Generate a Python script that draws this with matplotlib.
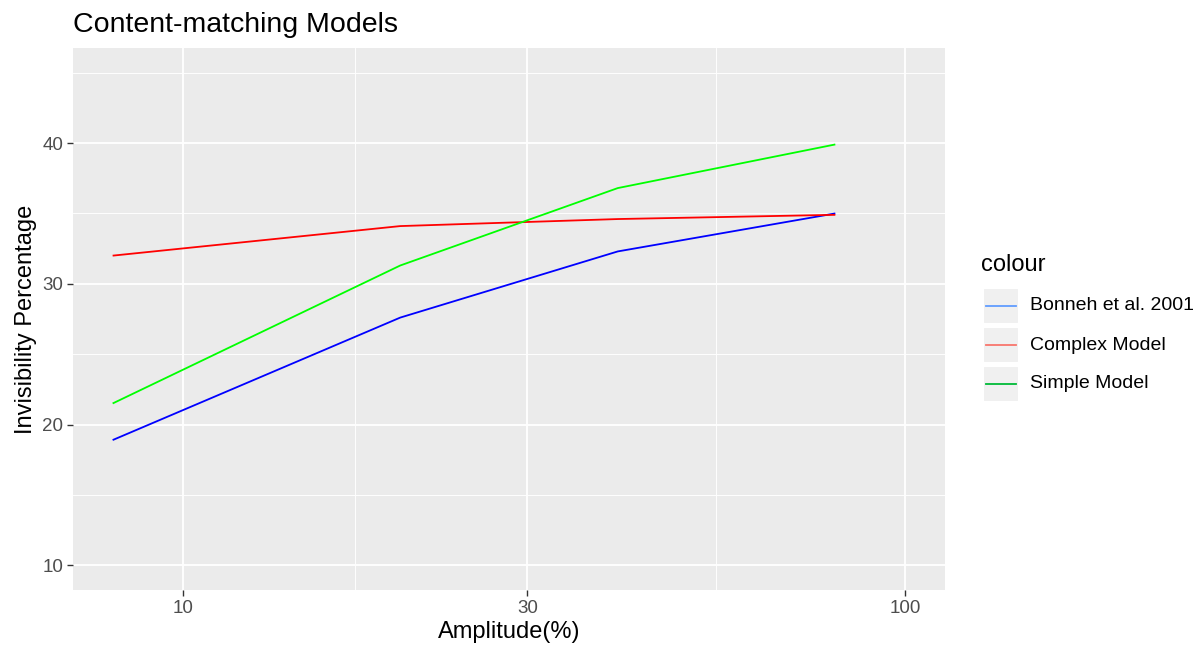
import numpy as np
import matplotlib.pyplot as plt
from matplotlib.lines import Line2D
from matplotlib.patches import Rectangle
from matplotlib.ticker import FixedLocator, NullFormatter

plt.rcParams['font.family'] = ['Liberation Sans', 'DejaVu Sans']

# amplitude (%) and invisibility percentage per model
amplitude = [8, 20, 40, 80]
bonneh = [18.9, 27.6, 32.3, 35.0]
complex_model = [32.0, 34.1, 34.6, 34.9]
simple_model = [21.5, 31.3, 36.8, 39.9]

series_names = ['Bonneh et al. 2001', 'Complex Model', 'Simple Model']
line_colors = ['#0000FF', '#FF0000', '#00FF00']
key_colors = ['#619CFF', '#F8766D', '#00BA38']

x_breaks = [10, 30, 100]
y_breaks = [10, 20, 30, 40]

W, H = 1204, 651
fig = plt.figure(figsize=(W / 100, H / 100), dpi=100)
fig.patch.set_facecolor('white')

left, right, top, bottom = 73, 945, 48, 590
ax = fig.add_axes([left / W, 1 - bottom / H, (right - left) / W, (bottom - top) / H])
ax.set_facecolor('#EBEBEB')

for y, c in zip([bonneh, complex_model, simple_model], line_colors):
    ax.plot(amplitude, y, color=c, lw=1.3, solid_capstyle='butt', zorder=3)

ax.set_xscale('log')
# ggplot-like 5% expansion around the limits (8..100, 10..45)
lx0, lx1 = np.log10(8), np.log10(100)
dx = (lx1 - lx0) * 0.05
ax.set_xlim(10 ** (lx0 - dx), 10 ** (lx1 + dx))
ax.set_ylim(10 - 35 * 0.05, 45 + 35 * 0.05)

ax.xaxis.set_major_locator(FixedLocator(x_breaks))
ax.set_xticklabels([str(v) for v in x_breaks])
lb = np.log10(x_breaks)
ax.xaxis.set_minor_locator(FixedLocator(10 ** ((lb[:-1] + lb[1:]) / 2)))
ax.xaxis.set_minor_formatter(NullFormatter())
ax.yaxis.set_major_locator(FixedLocator(y_breaks))
ax.yaxis.set_minor_locator(FixedLocator([15, 25, 35, 45]))

ax.grid(which='major', color='white', lw=1.3)
ax.grid(which='minor', color='white', lw=0.65)
ax.set_axisbelow(True)
for s in ax.spines.values():
    s.set_visible(False)

ax.tick_params(which='major', length=4, width=1, color='#333333',
               labelcolor='#4D4D4D', labelsize=13.5, pad=3)
ax.tick_params(which='minor', length=0)

ax.set_xlabel('Amplitude(%)', fontsize=17, labelpad=3)
ax.set_ylabel('Invisibility Percentage', fontsize=17, labelpad=4)

fig.text(left / W, 1 - 25 / H, 'Content-matching Models', fontsize=20.5,
         ha='left', va='center')

# legend
fig.text(981 / W, 1 - 265 / H, 'colour', fontsize=17, ha='left', va='center')
key_centers = [306, 345, 384]
for name, kc, cy in zip(series_names, key_colors, key_centers):
    fig.patches.append(Rectangle((983 / W, 1 - (cy + 18) / H), 36 / W, 36 / H,
                                 transform=fig.transFigure, facecolor='#F0F0F0',
                                 edgecolor='white', lw=1.5))
    fig.lines.append(Line2D([986 / W, 1016 / W], [1 - cy / H, 1 - cy / H],
                            transform=fig.transFigure, color=kc, lw=1.3))
    fig.text(1030 / W, 1 - cy / H, name, fontsize=14, ha='left', va='center')

fig.savefig('out.png', dpi=100)
